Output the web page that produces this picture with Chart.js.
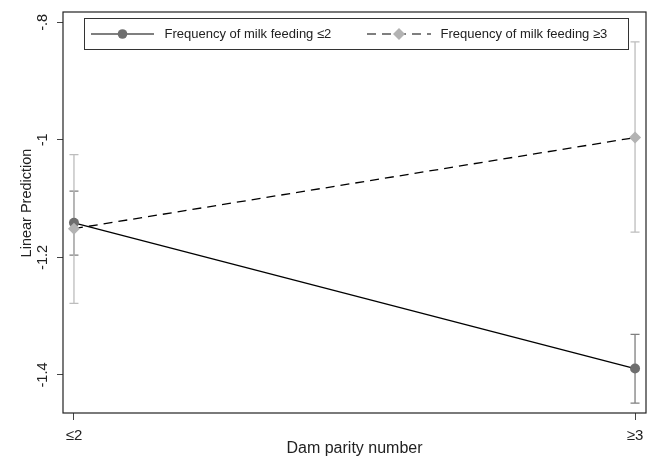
<!DOCTYPE html>
<html>
<head>
<meta charset="utf-8">
<script src="https://cdn.jsdelivr.net/npm/chart.js@4/dist/chart.umd.min.js"></script>
<style>
  html, body { margin: 0; padding: 0; background: #ffffff; }
  #wrap { width: 652px; height: 459px; }
</style>
</head>
<body>
<div id="wrap"><canvas id="c" width="652" height="459"></canvas></div>
<script>
// Margins (linear prediction with 95% CI) by dam parity and milk feeding frequency
const categories = ['≤2', '≥3'];
const seriesNames = ['Frequency of milk feeding ≤2', 'Frequency of milk feeding ≥3'];
const xTitle = 'Dam parity number';
const yTitle = 'Linear Prediction';

const lowFeedMean  = [-1.141, -1.389];
const lowFeedLower = [-1.196, -1.448];
const lowFeedUpper = [-1.087, -1.331];

const highFeedMean  = [-1.151, -0.996];
const highFeedLower = [-1.278, -1.157];
const highFeedUpper = [-1.025, -0.833];

const yTickValues = [-1.4, -1.2, -1, -0.8];
const yTickLabels = ['-1.4', '-1.2', '-1', '-.8'];

const FONT = "'Liberation Sans', Arial, sans-serif";
const LOW_MARK = '#6e6e6e';
const HIGH_MARK = '#b3b3b3';
const LOW_CI = '#7f7f7f';
const HIGH_CI = '#bdbdbd';

const toPoints = (vals) => vals.map((v, i) => ({ x: i, y: v }));

// Confidence interval whiskers, drawn beneath the lines
const ciPlugin = {
  id: 'ciBars',
  beforeDatasetsDraw(chart) {
    const { ctx, scales: { x, y } } = chart;
    const groups = [
      { lo: lowFeedLower, hi: lowFeedUpper, color: LOW_CI },
      { lo: highFeedLower, hi: highFeedUpper, color: HIGH_CI }
    ];
    ctx.save();
    ctx.lineWidth = 1.3;
    groups.forEach(g => {
      ctx.strokeStyle = g.color;
      categories.forEach((c, i) => {
        const px = x.getPixelForValue(i);
        const y0 = y.getPixelForValue(g.lo[i]);
        const y1 = y.getPixelForValue(g.hi[i]);
        ctx.beginPath();
        ctx.moveTo(px, y0); ctx.lineTo(px, y1);
        ctx.moveTo(px - 4.5, y0); ctx.lineTo(px + 4.5, y0);
        ctx.moveTo(px - 4.5, y1); ctx.lineTo(px + 4.5, y1);
        ctx.stroke();
      });
    });
    ctx.restore();
  }
};

// Plot frame, axis titles and the boxed legend inside the plot region
const framePlugin = {
  id: 'frameLegend',
  afterDraw(chart) {
    const { ctx, chartArea: a } = chart;
    ctx.save();
    ctx.strokeStyle = '#222';
    ctx.lineWidth = 1.2;
    ctx.strokeRect(a.left, a.top, a.right - a.left, a.bottom - a.top);

    // axis titles
    ctx.fillStyle = '#222';
    ctx.textAlign = 'center';
    ctx.textBaseline = 'middle';
    ctx.font = '16px ' + FONT;
    ctx.fillText(xTitle, (a.left + a.right) / 2, 449);
    ctx.save();
    ctx.translate(27, 203);
    ctx.rotate(-Math.PI / 2);
    ctx.font = '14.5px ' + FONT;
    ctx.fillText(yTitle, 0, 0);
    ctx.restore();

    // legend box
    const bx = 84.5, by = 18.5, bw = 544, bh = 31;
    ctx.fillStyle = '#fff';
    ctx.fillRect(bx, by, bw, bh);
    ctx.lineWidth = 1;
    ctx.strokeStyle = '#333';
    ctx.strokeRect(bx, by, bw, bh);
    const cy = by + bh / 2;

    // entry 1: solid line + circle
    ctx.strokeStyle = '#000';
    ctx.lineWidth = 1.2;
    ctx.setLineDash([]);
    ctx.beginPath(); ctx.moveTo(91, cy); ctx.lineTo(154, cy); ctx.stroke();
    ctx.fillStyle = LOW_MARK;
    ctx.beginPath(); ctx.arc(122.5, cy, 4.8, 0, Math.PI * 2); ctx.fill();

    // entry 2: dashed line + diamond
    ctx.setLineDash([9, 6]);
    ctx.beginPath(); ctx.moveTo(367, cy); ctx.lineTo(431, cy); ctx.stroke();
    ctx.setLineDash([]);
    ctx.fillStyle = HIGH_MARK;
    const dx = 399, r = 6;
    ctx.beginPath();
    ctx.moveTo(dx, cy - r); ctx.lineTo(dx + r, cy); ctx.lineTo(dx, cy + r); ctx.lineTo(dx - r, cy);
    ctx.closePath(); ctx.fill();

    ctx.fillStyle = '#222';
    ctx.font = '13px ' + FONT;
    ctx.textBaseline = 'middle';
    ctx.textAlign = 'left';
    ctx.fillText(seriesNames[0], 164.5, cy + 0.5);
    ctx.fillText(seriesNames[1], 440.5, cy + 0.5);
    ctx.restore();
  }
};

new Chart(document.getElementById('c'), {
  type: 'line',
  data: {
    datasets: [
      {
        label: seriesNames[0],
        data: toPoints(lowFeedMean),
        borderColor: '#000',
        borderWidth: 1.3,
        pointRadius: 5,
        pointStyle: 'circle',
        pointBackgroundColor: LOW_MARK,
        pointBorderWidth: 0,
        order: 1
      },
      {
        label: seriesNames[1],
        data: toPoints(highFeedMean),
        borderColor: '#000',
        borderWidth: 1.3,
        borderDash: [9, 6],
        pointRadius: 6,
        pointStyle: 'rectRot',
        pointBackgroundColor: HIGH_MARK,
        pointBorderWidth: 0,
        order: 0
      }
    ]
  },
  options: {
    responsive: false,
    devicePixelRatio: 1,
    animation: false,
    layout: { padding: { top: 12, right: 4, left: 0, bottom: 0 } },
    plugins: { legend: { display: false }, tooltip: { enabled: false } },
    scales: {
      x: {
        type: 'linear',
        min: -0.01954,
        max: 1.01954,
        afterBuildTicks: (s) => { s.ticks = categories.map((c, i) => ({ value: i })); },
        afterFit: (s) => { s.height = 46; },
        ticks: {
          callback: (v) => categories[v],
          color: '#222',
          font: { family: FONT, size: 15 },
          padding: 7,
          maxRotation: 0,
          autoSkip: false
        },
        grid: { drawOnChartArea: false, drawTicks: true, tickLength: 7, color: '#444', lineWidth: 1 },
        border: { display: false }
      },
      y: {
        min: -1.4647,
        max: -0.7823,
        afterBuildTicks: (s) => { s.ticks = yTickValues.map(v => ({ value: v })); },
        afterFit: (s) => { s.width = 63; },
        ticks: {
          callback: (v) => yTickLabels[yTickValues.findIndex(t => Math.abs(t - v) < 1e-9)],
          color: '#222',
          font: { family: FONT, size: 14.5 },
          minRotation: 90,
          maxRotation: 90,
          crossAlign: 'center',
          padding: 2,
          autoSkip: false
        },
        grid: { drawOnChartArea: false, drawTicks: true, tickLength: 6, color: '#444', lineWidth: 1 },
        border: { display: false }
      }
    }
  },
  plugins: [ciPlugin, framePlugin]
});
</script>
</body>
</html>
